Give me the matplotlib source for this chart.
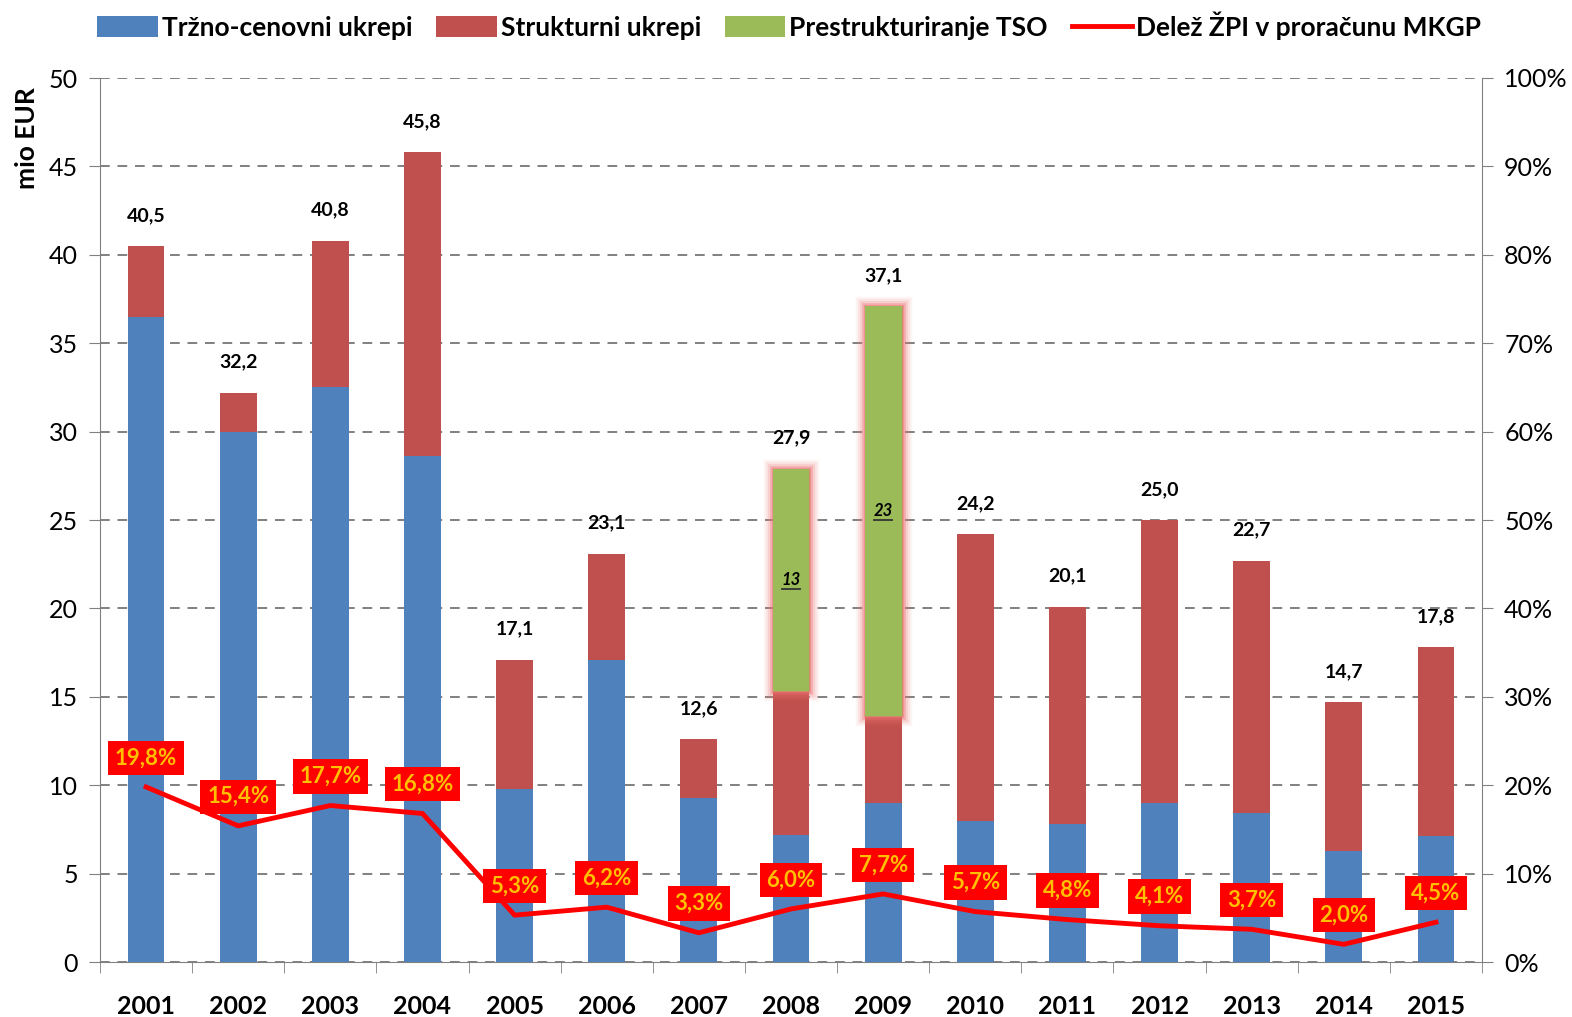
import matplotlib.pyplot as plt
import matplotlib.patheffects as pe
import numpy as np

plt.rcParams['font.family'] = ['Lato', 'DejaVu Sans']

leta = ['2001', '2002', '2003', '2004', '2005', '2006', '2007', '2008',
        '2009', '2010', '2011', '2012', '2013', '2014', '2015']
trzno = [36.5, 30.0, 32.5, 28.6, 9.8, 17.1, 9.3, 7.2, 9.0, 8.0, 7.8, 9.0, 8.4, 6.3, 7.1]
strukturni = [4.0, 2.2, 8.3, 17.2, 7.3, 6.0, 3.3, 8.1, 4.9, 16.2, 12.3, 16.0, 14.3, 8.4, 10.7]
tso = [0, 0, 0, 0, 0, 0, 0, 12.6, 23.2, 0, 0, 0, 0, 0, 0]
tso_oznake = ['', '', '', '', '', '', '', '13', '23', '', '', '', '', '', '']
skupaj = [40.5, 32.2, 40.8, 45.8, 17.1, 23.1, 12.6, 27.9, 37.1, 24.2, 20.1, 25.0, 22.7, 14.7, 17.8]
delez = [19.8, 15.4, 17.7, 16.8, 5.3, 6.2, 3.3, 6.0, 7.7, 5.7, 4.8, 4.1, 3.7, 2.0, 4.5]

modra = '#4F81BD'
rdeca = '#C0504D'
zelena = '#9BBB59'

fig = plt.figure(figsize=(15.72, 10.17), dpi=100)
ax = fig.add_axes([100 / 1572, 55 / 1017, 1382 / 1572, 884 / 1017])
x = np.arange(len(leta))
w = 0.4

ax.bar(x, trzno, w, color=modra, label='Tržno-cenovni ukrepi', zorder=3)
ax.bar(x, strukturni, w, bottom=trzno, color=rdeca, label='Strukturni ukrepi', zorder=3)
dno = np.array(trzno) + np.array(strukturni)
zb = ax.bar(x, tso, w, bottom=dno, color=zelena, label='Prestrukturiranje TSO', zorder=3)
# mehak rdec sij okrog zelenih stolpcev
sij = [pe.withStroke(linewidth=lw, foreground=(0.93, 0.45, 0.45, a))
       for lw, a in [(14, 0.08), (11, 0.12), (8, 0.18), (5, 0.3), (2.5, 0.5)]]
for b, v in zip(zb, tso):
    if v > 0:
        b.set_path_effects(sij + [pe.Normal()])

for i in range(len(leta)):
    ax.text(x[i], skupaj[i] + 1.25, f'{skupaj[i]:.1f}'.replace('.', ','), ha='center',
            va='bottom', fontsize=14, fontweight='bold', zorder=5)
    if tso_oznake[i]:
        ax.text(x[i], dno[i] + tso[i] / 2, tso_oznake[i], ha='center', va='center',
                fontsize=12, fontweight='bold', fontstyle='italic', zorder=5)
        # podcrtaj
        ax.plot([x[i] - 0.1, x[i] + 0.1], [dno[i] + tso[i] / 2 - 0.5] * 2,
                color='#333333', lw=1.3, zorder=5)

ax.set_xlim(-0.5, len(leta) - 0.5)
ax.set_ylim(0, 50)
ax.set_yticks(range(0, 51, 5))
ax.grid(axis='y', color='#808080', linestyle=(0, (5, 4)), linewidth=1.4, zorder=0)
ax.set_xticks(x)
ax.set_xticklabels(leta, fontsize=18, fontweight='bold')
ax.set_xticks(np.arange(-0.5, len(leta), 1), minor=True)
ax.tick_params(axis='x', which='major', length=0, pad=24)
ax.tick_params(axis='x', which='minor', length=8, color='#808080', direction='out')
ax.tick_params(axis='y', labelsize=18, length=8, color='#808080', pad=8)
for s in ['top', 'right']:
    ax.spines[s].set_visible(False)
for s in ['left', 'bottom']:
    ax.spines[s].set_color('#808080')
ax.text(-0.053, 0.99, 'mio EUR', transform=ax.transAxes, rotation=90, ha='center',
        va='top', fontsize=19, fontweight='bold')

ax2 = ax.twinx()
ax2.set_ylim(0, 100)
ax2.set_yticks(range(0, 101, 10))
ax2.set_yticklabels([f'{v}%' for v in range(0, 101, 10)])
ax2.tick_params(axis='y', labelsize=18, length=8, color='#808080', pad=8)
for s in ['top', 'left', 'bottom']:
    ax2.spines[s].set_visible(False)
ax2.spines['right'].set_color('#808080')
ax2.plot(x, delez, color='#FF0000', lw=3.5, label='Delež ŽPI v proračunu MKGP', zorder=4)
for i in range(len(leta)):
    ax2.annotate(f'{delez[i]:.1f}%'.replace('.', ','), (x[i], delez[i]), xytext=(0, 21),
                 textcoords='offset points', ha='center', va='center', fontsize=16,
                 color='#FFC000', fontweight='bold',
                 bbox=dict(boxstyle='square,pad=0.3', fc='#FF0000', ec='none'), zorder=6)

h1, l1 = ax.get_legend_handles_labels()
h2, l2 = ax2.get_legend_handles_labels()
fig.legend(h1 + h2, l1 + l2, loc='center', bbox_to_anchor=(0.502, 0.975), ncol=4,
           frameon=False, prop={'size': 19, 'weight': 'bold'}, handlelength=2.3,
           handleheight=0.8, handletextpad=0.15, columnspacing=0.9)

fig.savefig('out.png', dpi=100)
